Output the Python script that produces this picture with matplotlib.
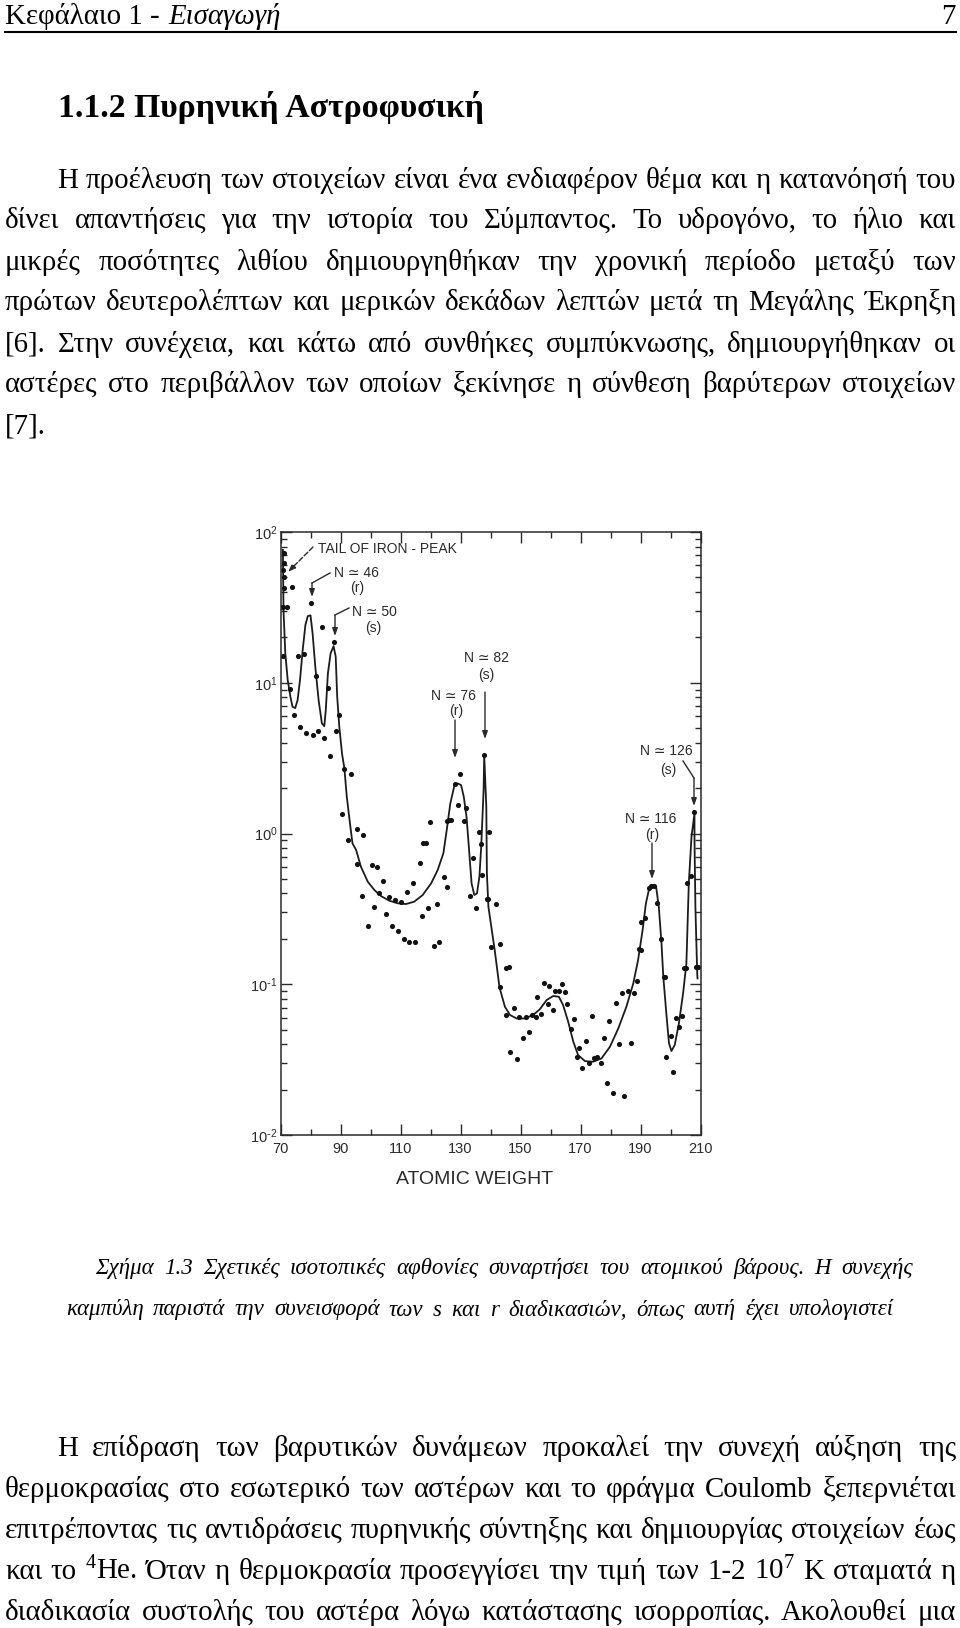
import numpy as np
import matplotlib
matplotlib.use('Agg')
import matplotlib.pyplot as plt
from matplotlib.lines import Line2D
from matplotlib.ticker import LogLocator, NullFormatter

plt.rcParams['font.family'] = ['Liberation Serif', 'DejaVu Sans']
plt.rcParams['mathtext.default'] = 'regular'

# Measured isotopes, atomic weight and log10 of the relative abundance
point_mass = [70.3, 70.8, 72.1, 70.8, 71.0, 71.0, 70.9, 71.0, 71.0, 73.9, 80.0, 83.9, 75.7, 77.8, 73.0, 81.8, 74.6, 76.6,
              78.4, 80.8, 82.5, 84.5, 86.5, 85.8, 87.8, 89.5, 88.4, 91.3, 93.4, 90.5, 92.4, 95.5, 97.4,
              95.4, 97.3, 99.3, 100.4, 102.3, 101.1, 104.3, 102.9, 105.2, 106.2, 107.1, 108.2, 109.1,
              110.3, 111.1, 112.2, 112.9, 114.3, 114.8, 116.4, 117.2, 118.5, 119.2, 121.1, 122.2, 122.8,
              124.4, 125.4, 117.6, 119.8, 125.6, 126.2, 126.9, 128.0, 129.8, 129.0, 131.8, 131.1, 133.2,
              134.1, 135.2, 137.1, 136.8, 139.2, 136.2, 137.9, 139.4, 138.8, 141.7, 140.3, 143.2, 145.3,
              143.0, 146.0, 145.1, 147.9, 146.6, 148.7, 149.5, 150.7, 151.7, 152.7, 153.7, 155.1, 155.6,
              156.8, 157.9, 159.0, 159.6, 160.9, 161.4, 162.7, 163.8, 164.9, 165.6, 166.9, 167.7, 168.8,
              169.4, 170.6, 171.7, 172.8, 173.9, 174.4, 175.6, 176.7, 177.9, 178.7, 179.6, 180.9, 181.8,
              182.7, 183.7, 184.6, 185.7, 186.8, 187.9, 188.7, 190.3, 189.6, 190.0, 191.6, 192.7, 193.6,
              194.4, 195.6, 196.7, 197.7, 198.3, 198.5, 200.0, 200.7, 201.8, 202.8, 203.8, 205.2, 204.6,
              205.4, 206.7, 207.8, 208.6, 209.0]
point_log = [1.500, 1.504, 1.504, 1.177, 1.858, 1.792, 1.748, 1.703, 1.626, 1.633, 1.531, 1.367, 1.177, 1.192, 0.958, 1.042, 0.785, 0.704,
             0.664, 0.653, 0.677, 0.633, 0.513, 0.965, 1.268, 0.783, 0.681, 0.431, 0.392, 0.128, -0.044, 0.033, -0.011,
             -0.200, -0.412, -0.614, -0.207, -0.220, -0.488, -0.313, -0.397, -0.534, -0.424, -0.614, -0.443, -0.649,
             -0.452, -0.700, -0.388, -0.722, -0.331, -0.720, -0.196, -0.547, -0.063, -0.494, -0.744, -0.468, -0.722,
             -0.289, -0.355, -0.062, 0.077, 0.082, 0.088, 0.088, 0.327, 0.392, 0.190, 0.168, 0.084, -0.412,
             -0.165, -0.497, -0.273, -0.072, -0.437, 0.010, 0.521, 0.010, -0.437, -0.466, -0.754, -0.732, -0.889,
             -1.021, -0.888, -1.202, -1.156, -1.448, -1.499, -1.215, -1.357, -1.215, -1.317, -1.204, -1.220, -1.087,
             -1.196, -0.992, -1.134, -1.014, -1.171, -1.043, -1.047, -0.999, -1.054, -1.129, -1.295, -1.231, -1.481,
             -1.421, -1.554, -1.375, -1.521, -1.211, -1.492, -1.481, -1.523, -1.357, -1.658, -1.246, -1.722, -1.125,
             -1.395, -1.058, -1.744, -1.047, -1.388, -1.058, -0.979, -0.773, -0.765, -0.586, -0.563, -0.364, -0.349,
             -0.349, -0.464, -0.698, -0.950, -0.950, -1.485, -1.344, -1.583, -1.227, -1.282, -1.211, -0.890, -0.891,
             -0.331, -0.282, 0.142, -0.884, -0.884]

# Continuous curve (s + r contribution)
curve_mass = [70.8, 71.0, 71.6, 72.4, 73.3, 74.0, 74.9, 75.7, 76.5, 77.4, 78.3, 79.1, 80.0, 80.7, 81.6, 82.7, 83.8, 84.6,
              85.1, 85.8, 86.7, 87.7, 88.4, 88.9, 89.6, 90.5, 91.3, 92.1, 93.3, 94.0, 95.2, 96.8, 99.1, 101.3,
              103.5, 106.3, 109.1, 111.8, 114.6, 117.4, 120.2, 122.4, 124.3, 125.4, 126.6, 128.0, 129.1, 130.2,
              131.1, 132.0, 132.7, 133.1, 133.7, 134.6, 135.5, 136.3, 136.9, 137.7, 137.9, 138.6, 138.8, 139.3,
              141.4, 143.0, 144.8, 146.5, 148.7, 151.4, 154.2, 156.4, 158.7, 160.9, 162.8, 164.2, 165.9, 167.6,
              169.2, 171.5, 174.2, 177.0, 179.8, 182.6, 185.3, 187.6, 189.2, 190.7, 191.8, 192.9, 194.1, 195.2,
              196.1, 197.0, 197.6, 198.7, 199.5, 200.3, 201.4, 202.8, 204.2, 205.3, 206.1, 207.0, 208.0, 208.0,
              208.3, 208.9, 209.0]
curve_log = [1.881, 1.482, 1.195, 1.018, 0.907, 0.841, 0.832, 0.885, 1.018, 1.217, 1.383, 1.442, 1.447, 1.327, 1.106, 0.885, 0.730, 0.712,
             0.819, 1.062, 1.195, 1.243, 1.173, 0.907, 0.708, 0.531, 0.431, 0.243, 0.044, -0.066, -0.109, -0.220, -0.320, -0.375,
             -0.415, -0.446, -0.463, -0.468, -0.452, -0.408, -0.331, -0.242, -0.131, 0.022, 0.199, 0.321, 0.332, 0.321,
             0.243, 0.111, -0.066, -0.176, -0.331, -0.408, -0.397, -0.287, -0.088, 0.288, 0.521, 0.178, -0.265, -0.486,
             -0.773, -1.021, -1.149, -1.204, -1.227, -1.227, -1.204, -1.167, -1.105, -1.078, -1.083, -1.138, -1.249, -1.381,
             -1.470, -1.510, -1.514, -1.492, -1.415, -1.293, -1.149, -0.994, -0.839, -0.641, -0.464, -0.364, -0.342, -0.353,
             -0.486, -0.730, -0.950, -1.215, -1.392, -1.443, -1.404, -1.260, -1.060, -0.861, -0.331, -0.021, 0.134, -0.043,
             -0.486, -0.928, -0.961]

x_ticks = [70, 90, 110, 130, 150, 170, 190, 210]
x_minor = [80, 100, 120, 140, 160, 180, 200]
y_ticks = [0.01, 0.1, 1, 10, 100]
y_labels = ['10$^{\\text{-}2}$', '10$^{\\text{-}1}$', '10$^{0}$', '10$^{1}$', '10$^{2}$']

header_left = 'Κεφάλαιο 1 -'
header_italic = 'Εισαγωγή'
heading = '1.1.2 Πυρηνική Αστροφυσική'
para_top = ['Η προέλευση των στοιχείων είναι ένα ενδιαφέρον θέμα και η κατανόησή του',
            'δίνει απαντήσεις για την ιστορία του Σύμπαντος. Το υδρογόνο, το ήλιο και',
            'μικρές ποσότητες λιθίου δημιουργηθήκαν την χρονική περίοδο μεταξύ των',
            'πρώτων δευτερολέπτων και μερικών δεκάδων λεπτών μετά τη Μεγάλης Έκρηξη',
            '[6]. Στην συνέχεια, και κάτω από συνθήκες συμπύκνωσης, δημιουργήθηκαν οι',
            'αστέρες στο περιβάλλον των οποίων ξεκίνησε η σύνθεση βαρύτερων στοιχείων']
caption = ['Σχήμα 1.3 Σχετικές ισοτοπικές αφθονίες συναρτήσει του ατομικού βάρους. Η συνεχής',
           'καμπύλη παριστά την συνεισφορά των s και r διαδικασιών, όπως αυτή έχει υπολογιστεί']
para_bottom = ['Η επίδραση των βαρυτικών δυνάμεων προκαλεί την συνεχή αύξηση της',
               'θερμοκρασίας στο εσωτερικό των αστέρων και το φράγμα Coulomb ξεπερνιέται',
               'επιτρέποντας τις αντιδράσεις πυρηνικής σύντηξης και δημιουργίας στοιχείων έως',
               'και το $^{4}$He. Όταν η θερμοκρασία προσεγγίσει την τιμή των 1-2 10$^{7}$ K σταματά η',
               'διαδικασία συστολής του αστέρα λόγω κατάστασης ισορροπίας. Ακολουθεί μια']

W, H = 960, 1628
fig = plt.figure(figsize=(W / 100, H / 100), dpi=100, facecolor='white')
renderer = fig.canvas.get_renderer()
INK = '#2a2a2a'
SANS = ['Liberation Sans', 'DejaVu Sans']


def put(x, y, s, **kw):
    # x, y in page pixels, y from the top
    return fig.text(x / W, 1 - y / H, s, va=kw.pop('va', 'baseline'), **kw)


def justified(s, y, x0=5, x1=956, **kw):
    words = s.split()
    arts = [put(0, y, w, **kw) for w in words]
    widths = [a.get_window_extent(renderer).width for a in arts]
    gap = (x1 - x0 - sum(widths)) / max(len(words) - 1, 1)
    x = x0
    for a, w in zip(arts, widths):
        a.set_x(x / W)
        x += w + gap


# page text
FS = 20.8
put(5, 24, header_left, fontsize=FS)
put(168, 24, header_italic, fontsize=FS, style='italic')
put(956, 24, '7', fontsize=FS, ha='right')
fig.add_artist(Line2D([5 / W, 956 / W], [1 - 32 / H, 1 - 32 / H], color='black', lw=1.5))
put(58, 117, heading, fontsize=24.3, weight='bold')

for i, line in enumerate(para_top):
    justified(line, 187.5 + i * 41, x0=57 if i == 0 else 5, fontsize=FS)
put(5, 434, '[7].', fontsize=FS)

justified(caption[0], 1274, x0=95, x1=913, fontsize=16.5, style='italic')
justified(caption[1], 1315.5, x0=66, x1=894, fontsize=16.5, style='italic')

for i, line in enumerate(para_bottom):
    justified(line, 1456 + i * 41, x0=57 if i == 0 else 5, fontsize=FS)

# chart
ax = fig.add_axes([280.5 / W, 1 - 1135 / H, 420 / W, 603 / H])
ax.set_yscale('log')
ax.plot(curve_mass, 10 ** np.array(curve_log), color='#1c1c1c', lw=1.3)
ax.plot(point_mass, 10 ** np.array(point_log), 'o', color='#111111', ms=3.7, mew=0)
ax.set_xlim(70, 210)
ax.set_ylim(0.01, 100)

ax.set_xticks(x_ticks)
ax.set_xticks(x_minor, minor=True)
ax.set_yticks(y_ticks)
ax.set_yticklabels(y_labels)
ax.yaxis.set_minor_locator(LogLocator(base=10, subs=range(2, 10), numticks=10))
ax.yaxis.set_minor_formatter(NullFormatter())
ax.tick_params(which='major', direction='in', top=True, right=True, length=8, width=1, color=INK,
               labelsize=10.5, labelcolor=INK)
ax.tick_params(axis='x', which='major', pad=5)
ax.tick_params(axis='y', which='major', pad=2)
ax.tick_params(which='minor', direction='in', top=True, right=True, length=4.5, width=1, color=INK)
for lab in ax.get_xticklabels() + ax.get_yticklabels():
    lab.set_family(SANS)
for sp in ax.spines.values():
    sp.set_linewidth(1.1)
    sp.set_color(INK)

# annotations
ann = dict(fontsize=10, color=INK, family=SANS, ha='center')
put(387, 553, 'TAIL OF IRON - PEAK', **ann)
for x, y, s in [(356, 577, 'N ≃ 46'), (357, 592, '(r)'), (374, 616, 'N ≃ 50'), (373, 632, '(s)'),
                (486, 662, 'N ≃ 82'), (486, 679, '(s)'), (453, 700, 'N ≃ 76'), (456, 715, '(r)'),
                (666, 755, 'N ≃ 126'), (668, 774, '(s)'), (651, 823, 'N ≃ 116'), (652, 839, '(r)')]:
    put(x, y, s, **ann)
put(475, 1184, 'ATOMIC WEIGHT', fontsize=14, color=INK, family=SANS, ha='center')


def arrow(path, ls='-'):
    pts = [(x, H - y) for x, y in path]
    if len(pts) > 2:
        xs, ys = zip(*pts[:-1])
        fig.add_artist(Line2D(np.array(xs) / W, np.array(ys) / H, color=INK, lw=1))
    ax.annotate('', xy=pts[-1], xytext=pts[-2], xycoords='figure pixels', textcoords='figure pixels',
                arrowprops=dict(arrowstyle='-|>,head_length=0.45,head_width=0.16', color=INK, lw=1, ls=ls,
                                shrinkA=0, shrinkB=0))


arrow([(313, 547), (288, 572)], ls='--')
arrow([(330, 573), (312, 583), (312, 597)])
arrow([(349, 608), (335, 615), (335, 636)])
arrow([(455, 720), (455, 758)])
arrow([(485, 692), (485, 739)])
arrow([(652, 843), (652, 879)])
arrow([(683, 761), (694, 778), (694, 806)])

fig.savefig('out.png', dpi=100, facecolor='white')
